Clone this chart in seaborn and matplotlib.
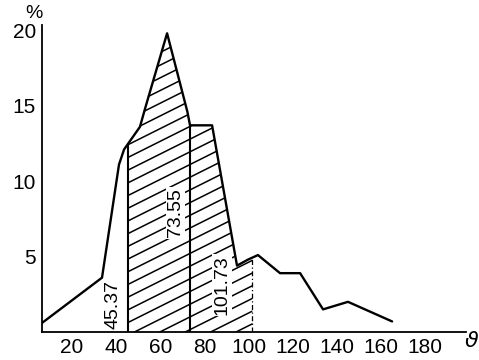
import numpy as np
import matplotlib
matplotlib.use("Agg")
import matplotlib.pyplot as plt
import seaborn as sns
from matplotlib.patches import Polygon

sns.set_theme(style="white")
plt.rcParams['font.family'] = ['Liberation Sans Narrow', 'Liberation Sans', 'DejaVu Sans']

# ---- data ----
curve_x = [5.5, 33.6, 41.3, 43.6, 50.8, 53.1, 63.1, 72.3, 73.5, 83.5, 94.8, 99.8, 104.3, 114.3, 123.4, 133.8, 145.1, 165.1]
curve_y = [0.5, 3.6, 11.1, 12.1, 13.6, 14.8, 19.8, 14.6, 13.7, 13.7, 4.4, 4.8, 5.1, 3.9, 3.9, 1.5, 2.0, 0.7]
lower_bound = 45.37
mean_value = 73.55
upper_bound = 101.73
bound_labels = ["45.37", "73.55", "101.73"]
x_ticks = [20, 40, 60, 80, 100, 120, 140, 160, 180]
y_ticks = [5, 10, 15, 20]

W, H = 479, 360
fig = plt.figure(figsize=(W / 100, H / 100), dpi=100)
ax = fig.add_axes([42 / W, 28 / H, (466 - 42) / W, (335 - 28) / H])
ax.set_facecolor("white")

xlim = (6.4, 198.6)
ylim = (0, 20.35)
ax.set_xlim(*xlim)
ax.set_ylim(*ylim)

# curve
sns.lineplot(x=curve_x, y=curve_y, sort=False, estimator=None, color="black",
             linewidth=1.7, ax=ax, zorder=6)

cx = np.array(curve_x)
cy = np.array(curve_y)

# hatched region between lower and upper bound, under the curve
inside = (cx > lower_bound) & (cx < upper_bound)
px = np.concatenate([[lower_bound], cx[inside], [upper_bound]])
py = np.concatenate([[np.interp(lower_bound, cx, cy)], cy[inside], [np.interp(upper_bound, cx, cy)]])
poly_xy = np.column_stack([np.concatenate([px, [upper_bound, lower_bound]]),
                           np.concatenate([py, [0, 0]])])
clip = Polygon(poly_xy, closed=True, facecolor="none", edgecolor="none")
ax.add_patch(clip)

# hatch lines: slope ~0.5 in pixels, spacing ~12.7 px vertically
ax_w_px = (466 - 42)
ax_h_px = (335 - 28)
xpx_per = ax_w_px / (xlim[1] - xlim[0])
ypx_per = ax_h_px / (ylim[1] - ylim[0])
slope = 0.5 * xpx_per / ypx_per
step = 12.7 / ypx_per
hx = np.array([lower_bound - 5, upper_bound + 5])
for c in np.arange(-12, 22, step):
    ln, = ax.plot(hx, c + slope * (hx - lower_bound), color="black", linewidth=1.1)
    ln.set_clip_path(clip)

# vertical bound lines
for xv, ls, lw in [(lower_bound, "-", 1.5), (mean_value, "-", 1.5), (upper_bound, (0, (4, 2, 1, 2)), 0.9)]:
    ax.plot([xv, xv], [0, np.interp(xv, cx, cy)], color="black", linestyle=ls, linewidth=lw, zorder=5)

# rotated value labels
label_pos = [(lower_bound - 7.0, 1.8), (mean_value - 6.6, 7.9), (upper_bound - 13.8, 3.1)]
for txt, (tx, ty) in zip(bound_labels, label_pos):
    ax.text(tx, ty, txt, rotation=90, ha="center", va="center", fontsize=14, color="black",
            zorder=3, bbox=dict(facecolor="white", edgecolor="none", pad=1.0))

# axes styling
for s in ["top", "right"]:
    ax.spines[s].set_visible(False)
for s in ["left", "bottom"]:
    ax.spines[s].set_color("black")
    ax.spines[s].set_linewidth(1.3)
    ax.spines[s].set_zorder(7)

ax.set_xticks(x_ticks)
ax.set_xticklabels([str(t) for t in x_ticks])
ax.set_yticks(y_ticks)
ax.set_yticklabels([str(t) for t in y_ticks])
ax.tick_params(axis="x", direction="inout", length=6, width=1.0, pad=1, labelsize=15, colors="black")
ax.tick_params(axis="y", direction="inout", length=7, width=1.0, pad=1, labelsize=15, colors="black")
ax.grid(False)

fig.text(34 / W, 1 - 14 / H, "%", ha="center", va="center", fontsize=14, color="black")
fig.text(472 / W, 1 - 341 / H, "ϑ", ha="center", va="center", fontsize=16, color="black",
         style="italic", family=["DejaVu Sans"])

fig.savefig("out.png", dpi=100, facecolor="white")
